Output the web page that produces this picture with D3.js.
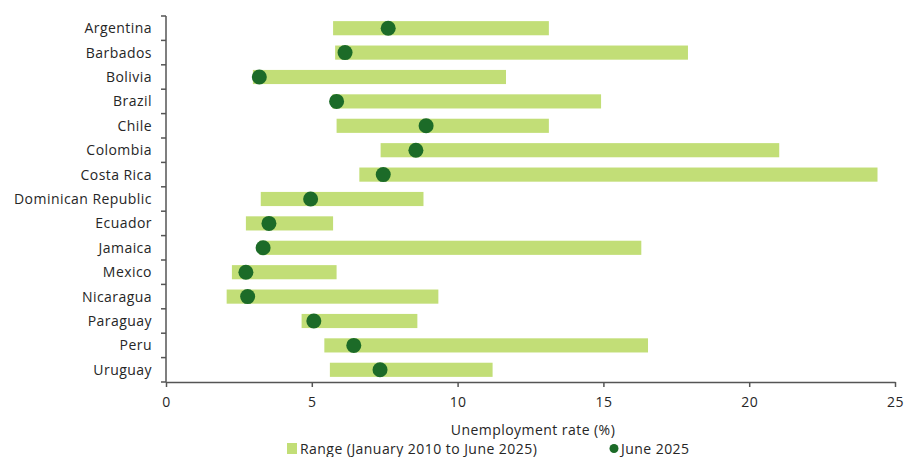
<!DOCTYPE html>
<html>
<head>
<meta charset="utf-8">
<script src="https://cdn.jsdelivr.net/npm/d3@7"></script>
<style>
  body { margin: 0; background: #fff; }
  text { font-family: "Open Sans", sans-serif; fill: #262626; letter-spacing: 0.45px; }
</style>
</head>
<body>
<div id="chart"></div>
<script>
// data
var countries = ["Argentina", "Barbados", "Bolivia", "Brazil", "Chile", "Colombia", "Costa Rica",
  "Dominican Republic", "Ecuador", "Jamaica", "Mexico", "Nicaragua", "Paraguay", "Peru", "Uruguay"];
var rangeLow  = [5.73, 5.8, 2.98, 5.7, 5.85, 7.36, 6.63, 3.25, 2.74, 3.2, 2.26, 2.08, 4.65, 5.43, 5.62];
var rangeHigh = [13.13, 17.9, 11.66, 14.92, 13.13, 21.03, 24.4, 8.83, 5.73, 16.3, 5.85, 9.34, 8.62, 16.53, 11.2];
var june2025  = [7.62, 6.14, 3.2, 5.85, 8.92, 8.57, 7.45, 4.96, 3.53, 3.33, 2.74, 2.8, 5.07, 6.44, 7.34];
var xTicks = [0, 5, 10, 15, 20, 25];

var width = 905, height = 457;
var margin = {top: 16, right: 10, bottom: 75, left: 166};

var svg = d3.select("#chart").append("svg")
  .attr("width", width)
  .attr("height", height);

var chartWidth = 895 - margin.left;
var chartHeight = height - margin.top - margin.bottom;

var g = svg.append("g").attr("transform", `translate(${margin.left},${margin.top})`);

var x = d3.scaleLinear().domain([0, 25]).range([0, chartWidth]);
var y = d3.scaleBand().domain(countries).range([0, chartHeight])
  .paddingInner(0.42).paddingOuter(0.21);

var rows = countries.map(function(c, i) {
  return {name: c, lo: rangeLow[i], hi: rangeHigh[i], v: june2025[i]};
});

// range bars
g.selectAll("rect.range")
  .data(rows)
  .enter()
  .append("rect")
  .attr("class", "range")
  .attr("x", d => x(d.lo))
  .attr("y", d => y(d.name))
  .attr("width", d => x(d.hi) - x(d.lo))
  .attr("height", y.bandwidth())
  .attr("fill", "#c2de77");

// june 2025 dots
g.selectAll("circle")
  .data(rows)
  .enter()
  .append("circle")
  .attr("cx", d => x(d.v))
  .attr("cy", d => y(d.name) + y.bandwidth() / 2)
  .attr("r", 7.5)
  .attr("fill", "#1c6b28");

// x axis
var xAxis = g.append("g")
  .attr("transform", `translate(0,${chartHeight})`)
  .call(d3.axisBottom(x).tickValues(xTicks).tickSize(5).tickSizeOuter(0));
xAxis.select(".domain").attr("stroke", "#555").attr("stroke-width", 1.5);
xAxis.selectAll(".tick line").attr("stroke", "#555").attr("stroke-width", 1.5);
xAxis.selectAll("text").attr("font-size", "14px").attr("dy", "1.2em");

// y axis: ticks sit between categories
var yAxis = g.append("g");
yAxis.append("line")
  .attr("x1", 0).attr("x2", 0)
  .attr("y1", 0).attr("y2", chartHeight)
  .attr("stroke", "#555").attr("stroke-width", 1.5);
var step = y.step();
yAxis.selectAll("line.tk")
  .data(d3.range(countries.length + 1))
  .enter()
  .append("line")
  .attr("class", "tk")
  .attr("x1", -5).attr("x2", 0)
  .attr("y1", i => i * step).attr("y2", i => i * step)
  .attr("stroke", "#555").attr("stroke-width", 1.5);
yAxis.selectAll("text")
  .data(countries)
  .enter()
  .append("text")
  .attr("x", -14)
  .attr("y", d => y(d) + y.bandwidth() / 2)
  .attr("dy", "0.35em")
  .attr("text-anchor", "end")
  .attr("font-size", "14px")
  .text(d => d);

// axis title
svg.append("text")
  .attr("x", 533)
  .attr("y", 435)
  .attr("text-anchor", "middle")
  .attr("font-size", "14px")
  .text("Unemployment rate (%)");

// legend
var leg = svg.append("g");
leg.append("rect")
  .attr("x", 287).attr("y", 443).attr("width", 10).attr("height", 11)
  .attr("fill", "#c2de77");
leg.append("text")
  .attr("x", 300).attr("y", 453.5)
  .attr("font-size", "14px")
  .text("Range (January 2010 to June 2025)");
leg.append("circle")
  .attr("cx", 614).attr("cy", 448.5).attr("r", 4.5)
  .attr("fill", "#1c6b28");
leg.append("text")
  .attr("x", 621).attr("y", 453.5)
  .attr("font-size", "14px")
  .text("June 2025");
</script>
</body>
</html>
